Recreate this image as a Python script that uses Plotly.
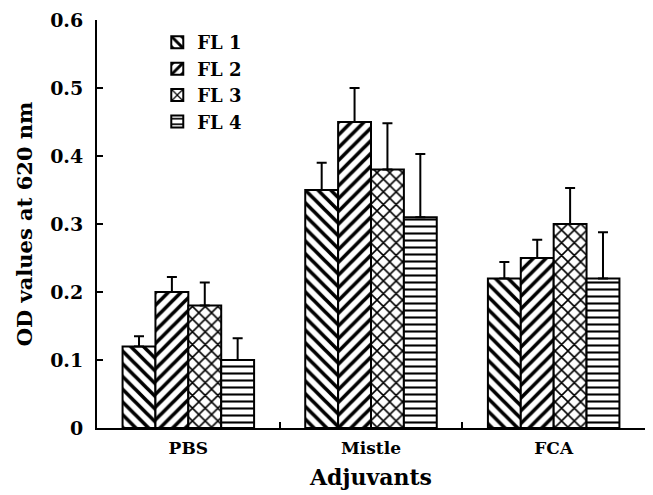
import plotly.graph_objects as go

categories = ["PBS", "Mistle", "FCA"]
series_names = ["FL 1", "FL 2", "FL 3", "FL 4"]
values = {
    "FL 1": [0.12, 0.35, 0.22],
    "FL 2": [0.20, 0.45, 0.25],
    "FL 3": [0.18, 0.38, 0.30],
    "FL 4": [0.10, 0.31, 0.22],
}
errors = {
    "FL 1": [0.015, 0.040, 0.024],
    "FL 2": [0.022, 0.050, 0.027],
    "FL 3": [0.034, 0.068, 0.053],
    "FL 4": [0.032, 0.093, 0.068],
}
y_ticks = [0, 0.1, 0.2, 0.3, 0.4, 0.5, 0.6]
y_tick_labels = ["0", "0.1", "0.2", "0.3", "0.4", "0.5", "0.6"]

# styles (shape, size, solidity)
pattern_style = {
    "FL 1": ("\\", 9, 0.4),
    "FL 2": ("/", 9, 0.4),
    "FL 3": ("x", 9, 0.32),
    "FL 4": ("-", 7, 0.3),
}

FONT = "DejaVu Serif"

fig = go.Figure()
for name in series_names:
    shape, psize, solid = pattern_style[name]
    fig.add_trace(go.Bar(
        name=name,
        x=categories,
        y=values[name],
        marker=dict(
            color="white",
            line=dict(color="black", width=2),
            pattern=dict(shape=shape, fgcolor="black", bgcolor="white",
                         fgopacity=1, size=psize, solidity=solid, fillmode="overlay"),
        ),
        error_y=dict(type="data", array=errors[name], arrayminus=[0] * len(categories),
                     symmetric=False, color="black", thickness=2, width=5),
    ))

fig.update_layout(
    width=653, height=495,
    margin=dict(l=97, r=8, t=20, b=67),
    paper_bgcolor="white", plot_bgcolor="white",
    barmode="group", bargap=0.28, bargroupgap=0,
    font=dict(family=FONT, color="black", size=16, weight="bold"),
    showlegend=True,
    legend=dict(x=0.11, y=0.99, xanchor="left", yanchor="top",
                bgcolor="rgba(0,0,0,0)", font=dict(size=18, family=FONT, weight="bold"),
                tracegroupgap=0, itemwidth=30),
    xaxis=dict(
        showline=True, linecolor="black", linewidth=2,
        ticks="inside", tickson="boundaries", ticklen=6, tickwidth=2, tickcolor="black",
        tickfont=dict(size=17, family=FONT, weight="bold"),
        ticklabelstandoff=4,
        title=dict(text="Adjuvants", font=dict(size=22, family=FONT, weight="bold"), standoff=12),
        showgrid=False, zeroline=False,
    ),
    yaxis=dict(
        range=[0, 0.6], tickvals=y_ticks, ticktext=y_tick_labels,
        showline=True, linecolor="black", linewidth=2,
        ticks="inside", ticklen=6, tickwidth=2, tickcolor="black",
        tickfont=dict(size=19, family=FONT, weight="bold"),
        ticklabelstandoff=8,
        title=dict(text="OD values at 620 nm", font=dict(size=21, family=FONT, weight="bold"), standoff=12),
        showgrid=False, zeroline=False,
    ),
)

fig.write_html("out.html")
